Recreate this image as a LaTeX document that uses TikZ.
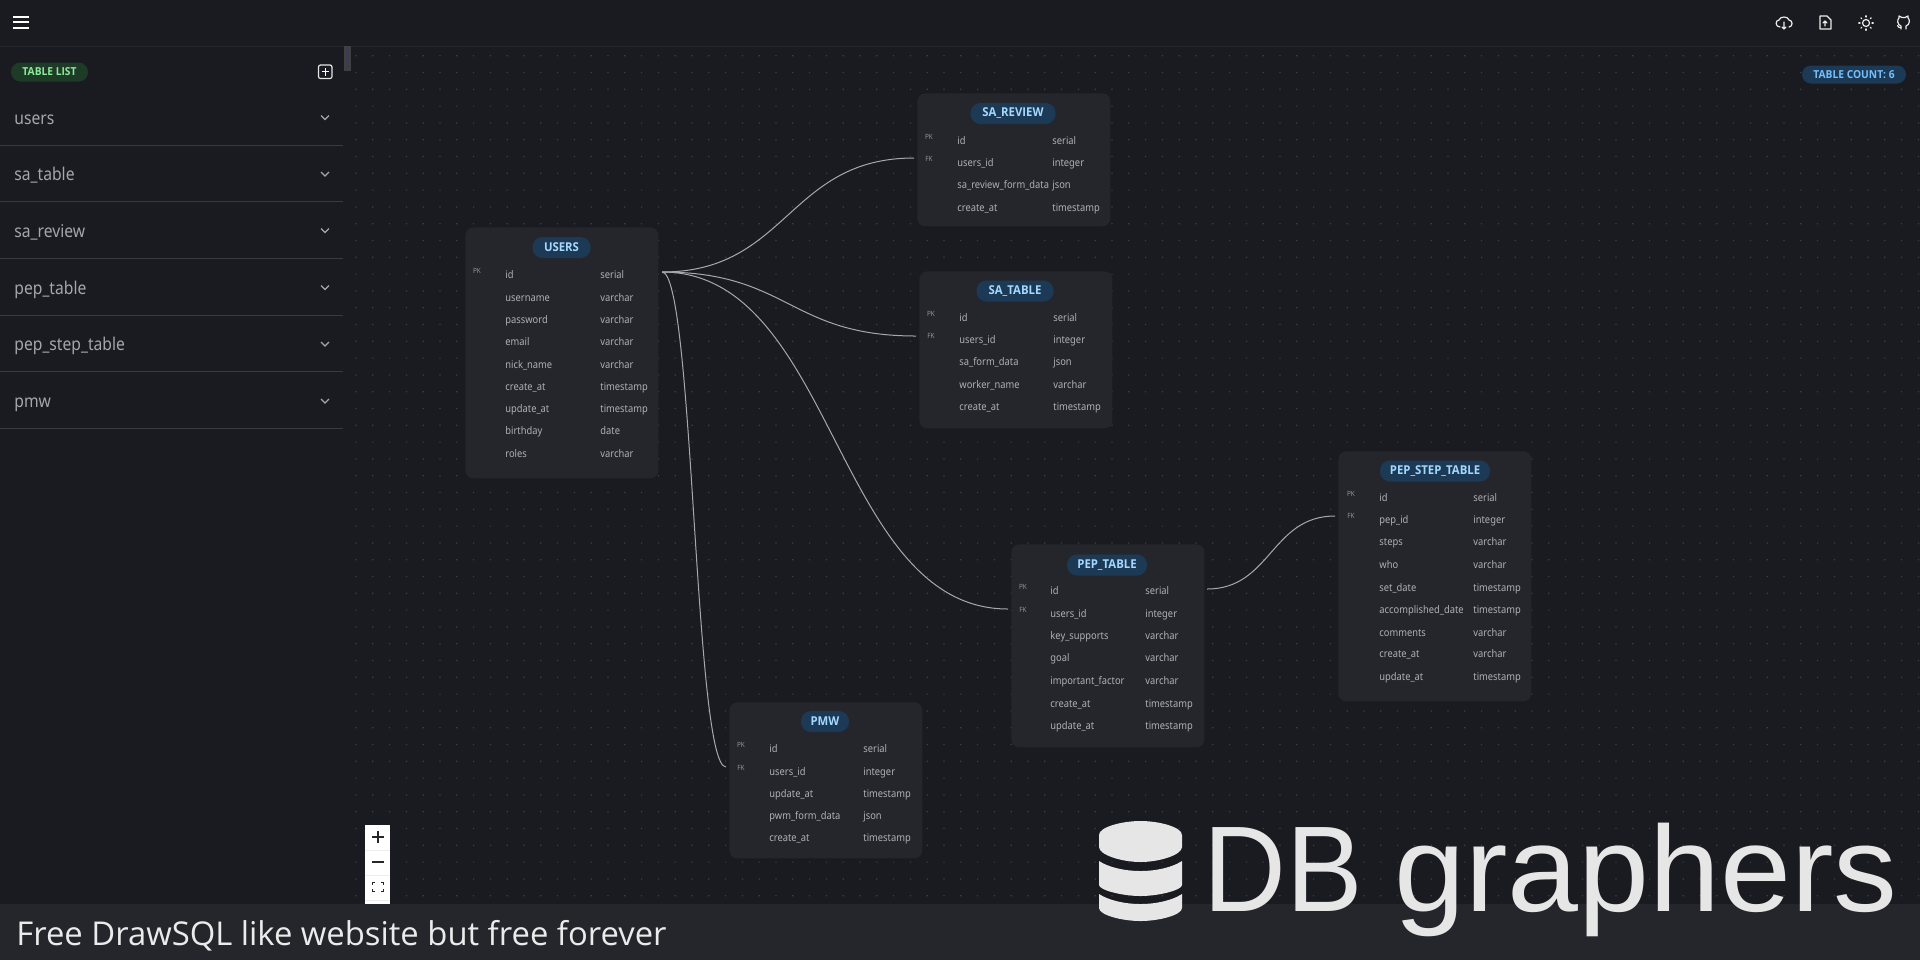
\documentclass[tikz,border=0pt]{standalone}
\usepackage{fontspec}
\setmainfont[FakeStretch=0.89]{Noto Sans}
\newfontfamily\uibold[FakeStretch=0.93]{Open Sans}
\newfontfamily\logofonta[FakeStretch=0.94]{Liberation Sans}
\newfontfamily\logofontb[FakeStretch=1.045]{Liberation Sans}
\newfontfamily\bannerfont{Open Sans}
\definecolor{bgc}{HTML}{1A1B20}
\definecolor{cardc}{HTML}{25262B}
\definecolor{linec}{HTML}{373A40}
\definecolor{dotc}{HTML}{3E4046}
\definecolor{txtc}{HTML}{AEB0B5}
\definecolor{sidec}{HTML}{A6A7AB}
\definecolor{pillb}{HTML}{1C3A56}
\definecolor{pillt}{HTML}{A5D8FF}
\definecolor{countt}{HTML}{74C0FC}
\definecolor{greenb}{HTML}{1D3B26}
\definecolor{greent}{HTML}{8CE99A}
\definecolor{keyc}{HTML}{8C9096}
\definecolor{edgec}{HTML}{A8A8AC}
\definecolor{logoc}{HTML}{E6E6E6}
\definecolor{scrollc}{HTML}{3D3D52}
\definecolor{sepc}{HTML}{EEEEEE}
\tikzset{
  card/.style={draw=none,fill=cardc,rounded corners=4pt,minimum width=96.5pt,anchor=north west,inner sep=0pt},
  titlepill/.style={fill=pillb,rounded corners=5pt,minimum height=10.5pt,inner sep=0pt,text=pillt,font=\uibold\bfseries\fontsize{6.1}{7}\selectfont},
  rowtxt/.style={anchor=base west,inner sep=0pt,text=txtc,font=\fontsize{5.25}{6}\selectfont},
  keytxt/.style={anchor=center,inner sep=0pt,text=keyc,font=\fontsize{3.6}{4}\selectfont},
  sideitem/.style={anchor=base west,inner sep=0pt,text=sidec,font=\fontsize{8.8}{10}\selectfont},
  divider/.style={draw=linec,line width=.5pt},
  chevron/.style={draw=sidec,line width=.55pt},
  relation/.style={draw=edgec,line width=.5pt},
  iconline/.style={draw=white!92!black,line width=.6pt,line cap=round,line join=round},
  zoomglyph/.style={draw=black!85,line width=.7pt},
}
\newcommand\dbrows[4]{%
  \foreach \yy/\nm/\ty [count=\i] in {#4}{%
    \node[rowtxt] (#1-n\i) at (#2,\yy+4) {\nm};
    \node[rowtxt] (#1-t\i) at (#3,\yy+4) {\ty};
  }}
\begin{document}
\begin{tikzpicture}[x=0.5pt,y=-0.5pt]
\useasboundingbox (0,0) rectangle (1920,960);
\fill[bgc] (0,0) rectangle (1920,960);
% dot grid
\fill[dotc] \foreach \ix in {0,...,93}{\foreach \iy in {0,...,51}{
  ({356+\ix*16.8-.6},{55.7+\iy*16.8-.6}) rectangle +(1.2,1.2)}};
\fill[bgc] (0,46) rectangle (344,904);
\draw[draw=cardc,line width=.5pt] (0,46.5) -- (1920,46.5);
% hamburger
\draw[white,line width=1pt] (13,16.5) -- (29,16.5) (13,22) -- (29,22) (13,28) -- (29,28);
% top-right icons
\draw[iconline] (1780,27) .. controls (1775,27) and (1775,20) .. (1779,20) .. controls (1780,16) and (1788,16) .. (1789,20) .. controls (1793,20) and (1793,27) .. (1789,27);
\draw[iconline] (1784,22) -- (1784,29) (1782,27) -- (1784,29) -- (1786,27);
\draw[iconline] (1820,16) -- (1827,16) -- (1831,20) -- (1831,29) -- (1820,29) -- cycle (1825,26) -- (1825,21) (1823,23) -- (1825,21) -- (1827,23);
\draw[iconline] (1866,23) circle (3.5);
\foreach \a in {0,45,...,315}{\draw[iconline] ({1866+6*cos(\a)},{23+6*sin(\a)}) -- ({1866+7.2*cos(\a)},{23+7.2*sin(\a)});}
\draw[iconline] (1901,29) -- (1901,26) .. controls (1897,25) and (1897,19) .. (1899,18) -- (1899,16) -- (1902,17.5) -- (1905,17.5) -- (1908,16) -- (1908,18) .. controls (1910,19) and (1910,25) .. (1906,26) -- (1906,29);
\draw[iconline] (1901,27.5) -- (1899,27.5) -- (1897.5,25.5);
% scrollbar
\fill[black!75] (344,46) rectangle (351,71);
\fill[scrollc] (346,47) rectangle (350,70);
% sidebar
\node[fill=greenb,rounded corners=4.7pt,minimum width=38.5pt,minimum height=9.5pt,inner sep=0pt,text=greent,font=\uibold\bfseries\fontsize{5.5}{6}\selectfont] (tablelist) at (49.5,72) {TABLE LIST};
\draw[white!90!black,line width=.6pt,rounded corners=1pt] (318.5,65) rectangle (332,78.5);
\draw[white,line width=.7pt] (321.5,71.7) -- (329,71.7) (325.2,68) -- (325.2,75.5);
\foreach \yy/\nm/\k in {118/users/a,174.5/sa\_table/b,231/sa\_review/c,288/pep\_table/d,344.5/pep\_step\_table/e,401.5/pmw/f}{
  \node[sideitem] (side-\k) at (14,\yy+6) {\nm};
  \draw[chevron] (321,{\yy-2.5}) -- (325,{\yy+1.5}) -- (329,{\yy-2.5});
  \draw[divider] (0,{\yy+27.3}) -- (343,{\yy+27.3});
}
% tables
\node[card,minimum height=125.5pt] (users) at (465,227) {};
\node[card,minimum height=66.5pt] (sareview) at (917,93) {};
\node[card,minimum height=78.5pt] (satable) at (919,271) {};
\node[card,minimum height=125pt] (pepstep) at (1338,451) {};
\node[card,minimum height=101.5pt] (pep) at (1011,544) {};
\node[card,minimum height=78pt] (pmw) at (729,702) {};
% titles
\node[titlepill,minimum width=29pt] (users-title) at (561.5,247.5) {USERS};
\node[titlepill,minimum width=42.5pt] (sareview-title) at (1013,113.5) {SA\_REVIEW};
\node[titlepill,minimum width=38.5pt] (satable-title) at (1015,291) {SA\_TABLE};
\node[titlepill,minimum width=55pt] (pepstep-title) at (1435,471) {PEP\_STEP\_TABLE};
\node[titlepill,minimum width=40pt] (pep-title) at (1107,565) {PEP\_TABLE};
\node[titlepill,minimum width=24pt] (pmw-title) at (825,721.5) {PMW};
% rows
\dbrows{users}{505}{600}{274/id/serial,297/username/varchar,319/password/varchar,341/email/varchar,364/nick\_name/varchar,386/create\_at/timestamp,408/update\_at/timestamp,430/birthday/date,453/roles/varchar}
\dbrows{sareview}{957}{1052}{140/id/serial,162/users\_id/integer,184/sa\_review\_form\_data/json,207/create\_at/timestamp}
\dbrows{satable}{959}{1053}{317/id/serial,339/users\_id/integer,361/sa\_form\_data/json,384/worker\_name/varchar,406/create\_at/timestamp}
\dbrows{pepstep}{1379}{1473}{497/id/serial,519/pep\_id/integer,541/steps/varchar,564/who/varchar,587/set\_date/timestamp,609/accomplished\_date/timestamp,632/comments/varchar,653/create\_at/varchar,676/update\_at/timestamp}
\dbrows{pep}{1050}{1145}{590/id/serial,613/users\_id/integer,635/key\_supports/varchar,657/goal/varchar,680/important\_factor/varchar,703/create\_at/timestamp,725/update\_at/timestamp}
\dbrows{pmw}{769}{863}{748/id/serial,771/users\_id/integer,793/update\_at/timestamp,815/pwm\_form\_data/json,837/create\_at/timestamp}
% keys
\node[keytxt] (users-pk) at (477,271) {PK};
\node[keytxt] (sareview-pk) at (929,137) {PK};
\node[keytxt] (sareview-fk) at (929,159) {FK};
\node[keytxt] (satable-pk) at (931,314) {PK};
\node[keytxt] (satable-fk) at (931,336) {FK};
\node[keytxt] (pepstep-pk) at (1351,494) {PK};
\node[keytxt] (pepstep-fk) at (1351,516) {FK};
\node[keytxt] (pep-pk) at (1023,587) {PK};
\node[keytxt] (pep-fk) at (1023,610) {FK};
\node[keytxt] (pmw-pk) at (741,745) {PK};
\node[keytxt] (pmw-fk) at (741,768) {FK};
% relations
\coordinate (usersOut) at (662,272);
\coordinate (sareviewIn) at (914,158);
\coordinate (satableIn) at (916,336);
\coordinate (pepIn) at (1008,609);
\coordinate (pmwIn) at (726,767);
\coordinate (pepOut) at (1207,589);
\coordinate (pepstepIn) at (1335,516);
\draw[relation] (usersOut) .. controls +(126,0) and +(-126,0) .. (sareviewIn);
\draw[relation] (usersOut) .. controls +(127,0) and +(-127,0) .. (satableIn);
\draw[relation] (usersOut) .. controls +(173,0) and +(-173,0) .. (pepIn);
\draw[relation] (usersOut) .. controls +(32,0) and +(-32,0) .. (pmwIn);
\draw[relation] (pepOut) .. controls +(64,0) and +(-64,0) .. (pepstepIn);
% table count
\node[fill=pillb,rounded corners=4.5pt,minimum width=52pt,minimum height=9pt,inner sep=0pt,text=countt,font=\uibold\bfseries\fontsize{5.5}{6}\selectfont] (tablecount) at (1854,74.5) {TABLE COUNT: 6};
% zoom controls
\fill[white] (365,825) rectangle (390,904);
\draw[sepc,line width=.5pt] (365,850) -- (390,850) (365,875) -- (390,875) (365,900) -- (390,900);
\draw[zoomglyph] (372,837) -- (384,837) (378,831) -- (378,843) (372,862) -- (384,862);
\draw[black!85,line width=.7pt] (372.5,885) -- (372.5,882.5) -- (375,882.5) (381,882.5) -- (383.5,882.5) -- (383.5,885)
  (383.5,889) -- (383.5,891.5) -- (381,891.5) (375,891.5) -- (372.5,891.5) -- (372.5,889);
% banner
\fill[cardc] (0,904) rectangle (1920,960);
\node[anchor=base west,inner sep=0pt,text=white!92!black,font=\bannerfont\fontsize{16.4}{20}\selectfont] (banner) at (16,945) {Free DrawSQL like website but free forever};
% logo
\fill[logoc] (1099,835) .. controls (1099,827) and (1122,821) .. (1140.5,821) .. controls (1159,821) and (1182,827) .. (1182,835) -- (1182,847) .. controls (1182,855) and (1159,862) .. (1140.5,862) .. controls (1122,862) and (1099,855) .. (1099,847) -- cycle;
\fill[logoc] (1099,861) .. controls (1108,867) and (1124,871) .. (1140.5,871) .. controls (1157,871) and (1173,867) .. (1182,861) -- (1182,885) .. controls (1182,890) and (1159,896) .. (1140.5,896) .. controls (1122,896) and (1099,890) .. (1099,885) -- cycle;
\fill[logoc] (1099,894) .. controls (1108,900) and (1124,904) .. (1140.5,904) .. controls (1157,904) and (1173,900) .. (1182,894) -- (1182,908) .. controls (1182,915) and (1159,921) .. (1140.5,921) .. controls (1122,921) and (1099,915) .. (1099,908) -- cycle;
\node[anchor=base west,inner sep=0pt,text=logoc,font=\fontsize{61}{70}\selectfont] (logo) at (1203,911) {\logofonta\fontsize{61}{70}\selectfont DB \logofontb\fontsize{61}{70}\selectfont graphers};
\end{tikzpicture}
\end{document}
